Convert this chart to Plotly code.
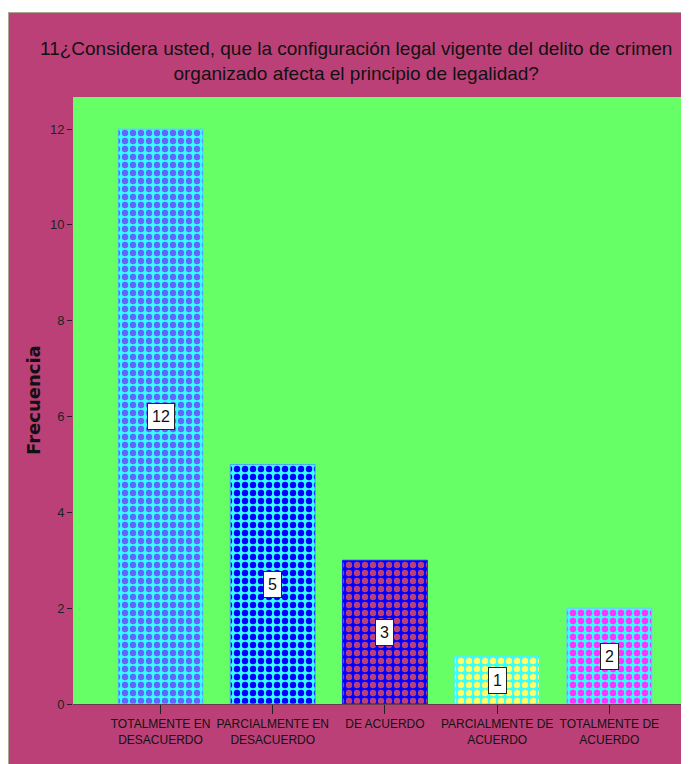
import plotly.graph_objects as go

categories = ["TOTALMENTE EN<br>DESACUERDO", "PARCIALMENTE EN<br>DESACUERDO", "DE ACUERDO",
              "PARCIALMENTE DE<br>ACUERDO", "TOTALMENTE DE<br>ACUERDO"]
values = [12, 5, 3, 1, 2]
light_colors = ["#33FFFF", "#33FFFF", "#0000FF", "#33FFFF", "#33FFFF"]
dark_colors = ["#6464FF", "#0000FF", "#BC4078", "#FFFF66", "#FF33FF"]
edge_colors = ["#55CCFF", "#44AAFF", "#2020FF", "#55EEEE", "#66CCFF"]
y_ticks = [0, 2, 4, 6, 8, 10, 12]

title_text = ("11¿Considera usted, que la configuración legal vigente del delito de crimen<br>"
              "organizado afecta el principio de legalidad?")
y_title = "Frecuencia"

# page body has an 8px margin, so the figure fills the rest of the window
OFF = 8
W, H = 689 - OFF, 764 - OFF
L, R, T, B = 65, 0, 89, 60
PW, PH = W - L - R, H - T - B

def px_x(p):  # screen pixel -> paper x
    return (p - OFF - L) / PW

def px_y(p):  # screen pixel -> paper y
    return (H - B - (p - OFF)) / PH

FONT = "Liberation Sans, Arial, sans-serif"
MAROON = "#BC4078"
GREEN = "#66FF66"

fig = go.Figure()
for c, v, lc, dc, ec in zip(categories, values, light_colors, dark_colors, edge_colors):
    fig.add_trace(go.Bar(
        x=[c], y=[v], width=0.757,
        marker=dict(
            color=lc,
            line=dict(color=ec, width=1),
            pattern=dict(shape=".", bgcolor=lc, fgcolor=dc, fgopacity=1,
                         size=8, solidity=0.5, fillmode="replace"),
        ),
        hoverinfo="skip",
    ))

annotations = []
for c, v in zip(categories, values):
    annotations.append(dict(
        x=c, y=v / 2, xref="x", yref="y", text=str(v), showarrow=False,
        font=dict(family=FONT, size=16, color="#111"),
        bgcolor="white", bordercolor="#222", borderwidth=1, borderpad=4,
    ))
annotations.append(dict(
    x=px_x(33), y=px_y(400), xref="paper", yref="paper", text="<b>" + y_title + "</b>",
    textangle=-90, showarrow=False, xanchor="center", yanchor="middle",
    font=dict(family="DejaVu Sans, Verdana, sans-serif", size=18, color="#111"),
))
annotations.append(dict(
    x=px_x(356), y=px_y(61), xref="paper", yref="paper", text=title_text,
    showarrow=False, xanchor="center", yanchor="middle",
    font=dict(family=FONT, size=19, color="#111"),
))

shapes = [
    dict(type="rect", xref="paper", yref="paper", x0=px_x(OFF), x1=px_x(689),
         y0=px_y(12), y1=px_y(OFF), fillcolor="white", line=dict(width=0), layer="above"),
    dict(type="line", xref="paper", yref="paper", x0=px_x(8.5), x1=px_x(8.5),
         y0=px_y(764), y1=px_y(12), line=dict(color="#A8A890", width=1), layer="above"),
    dict(type="line", xref="paper", yref="paper", x0=px_x(8), x1=px_x(689),
         y0=px_y(12.5), y1=px_y(12.5), line=dict(color="#A8A890", width=1), layer="above"),
]

fig.update_layout(
    width=W, height=H,
    margin=dict(l=L, r=R, t=T, b=B, pad=0, autoexpand=False),
    paper_bgcolor=MAROON, plot_bgcolor=GREEN,
    showlegend=False, barmode="overlay",
    annotations=annotations, shapes=shapes,
    xaxis=dict(
        type="category", categoryorder="array", categoryarray=categories,
        range=[-0.78, 4.71], showgrid=False, zeroline=False,
        automargin=False, tickangle=0,
        showline=True, linecolor="#6a3a50", linewidth=1,
        ticks="outside", ticklen=9, tickcolor="#222", tickwidth=1,
        tickfont=dict(family=FONT, size=12, color="#111"),
    ),
    yaxis=dict(
        range=[0, 12.67], tickvals=y_ticks, showgrid=False, zeroline=False,
        automargin=False,
        showline=False, ticks="outside", ticklen=5, tickcolor="#222", tickwidth=1,
        tickfont=dict(family=FONT, size=13, color="#222"),
    ),
)

fig.write_html("out.html")
